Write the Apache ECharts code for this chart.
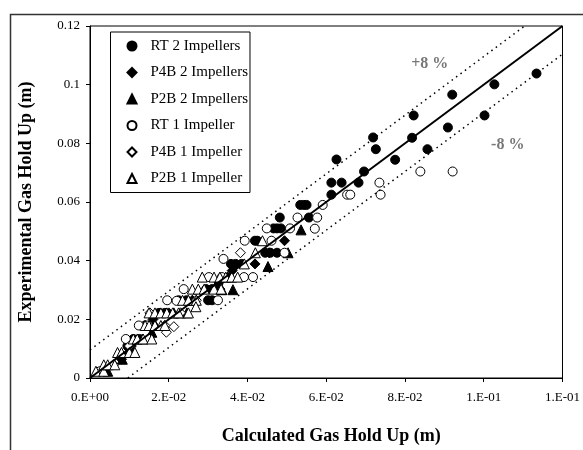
<!DOCTYPE html>
<html>
<head>
<meta charset="utf-8">
<script src="https://cdn.jsdelivr.net/npm/echarts@6/dist/echarts.min.js"></script>
<style>
  html, body { margin: 0; padding: 0; background: #fff; }
  #chart { width: 583px; height: 450px; }
</style>
</head>
<body>
<div id="chart"></div>
<script>
// tick labels as printed on the original
const xTickLabels = ['0.E+00', '2.E-02', '4.E-02', '6.E-02', '8.E-02', '1.E-01', '1.E-01']
const yTickLabels = ['0', '0.02', '0.04', '0.06', '0.08', '0.1', '0.12']

// [calculated, experimental] pairs
const rt2 = [
  [0.1134, 0.1038], [0.1027, 0.1001], [0.0920, 0.0966], [0.0822, 0.0895], [0.1002, 0.0895],
  [0.0909, 0.0854], [0.0818, 0.0819], [0.0719, 0.0820], [0.0726, 0.0780], [0.0857, 0.0780],
  [0.0775, 0.0744], [0.0626, 0.0745], [0.0696, 0.0704], [0.0613, 0.0666], [0.0639, 0.0666],
  [0.0682, 0.0666], [0.0613, 0.0625], [0.0534, 0.0590], [0.0543, 0.0590], [0.0550, 0.0590],
  [0.0482, 0.0547], [0.0556, 0.0547], [0.0466, 0.0510], [0.0475, 0.0510], [0.0485, 0.0510],
  [0.0419, 0.0468], [0.0425, 0.0468], [0.0445, 0.0427], [0.0458, 0.0427], [0.0475, 0.0427],
  [0.0358, 0.0389], [0.0370, 0.0389], [0.0385, 0.0389], [0.0327, 0.0326],
  [0.0295, 0.0303], [0.0310, 0.0303], [0.0325, 0.0303],
  [0.0225, 0.0265], [0.0245, 0.0265], [0.0300, 0.0265], [0.0310, 0.0265],
  [0.0175, 0.0222], [0.0190, 0.0222], [0.0140, 0.0179], [0.0160, 0.0179],
  [0.0110, 0.0133], [0.0125, 0.0133], [0.0095, 0.0109]
]
const p4b2 = [
  [0.0494, 0.0468], [0.0419, 0.0389], [0.0361, 0.0366], [0.0455, 0.0427], [0.0330, 0.0303],
  [0.0260, 0.0265], [0.0200, 0.0222], [0.0160, 0.0200], [0.0140, 0.0179], [0.0150, 0.0133],
  [0.0105, 0.0109], [0.0080, 0.0064]
]
const p2b2 = [
  [0.0452, 0.0380], [0.0503, 0.0427], [0.0536, 0.0505], [0.0363, 0.0301], [0.0335, 0.0301],
  [0.0350, 0.0344], [0.0260, 0.0265], [0.0213, 0.0222], [0.0230, 0.0222], [0.0246, 0.0222],
  [0.0166, 0.0179], [0.0157, 0.0156], [0.0133, 0.0133], [0.0095, 0.0087], [0.0110, 0.0087],
  [0.0082, 0.0064], [0.0045, 0.0023]
]
const rt1 = [
  [0.0921, 0.0704], [0.0839, 0.0704], [0.0735, 0.0666], [0.0738, 0.0625], [0.0653, 0.0625],
  [0.0661, 0.0625], [0.0591, 0.0590], [0.0527, 0.0547], [0.0577, 0.0547], [0.0449, 0.0510],
  [0.0508, 0.0510], [0.0571, 0.0509], [0.0393, 0.0468], [0.0461, 0.0468], [0.0494, 0.0427],
  [0.0339, 0.0406], [0.0302, 0.0344], [0.0335, 0.0344], [0.0391, 0.0344], [0.0414, 0.0344],
  [0.0238, 0.0303], [0.0196, 0.0265], [0.0220, 0.0263], [0.0325, 0.0265],
  [0.0124, 0.0179], [0.0147, 0.0179], [0.0091, 0.0133], [0.0025, 0.0023]
]
const p4b1 = [
  [0.0382, 0.0427], [0.0152, 0.0222], [0.0194, 0.0156], [0.0213, 0.0175], [0.0230, 0.0222],
  [0.0190, 0.0179], [0.0270, 0.0265], [0.0150, 0.0133], [0.0100, 0.0109], [0.0060, 0.0045]
]
const p2b1 = [
  [0.0015, 0.0023], [0.0035, 0.0023], [0.0035, 0.0045], [0.0045, 0.0045], [0.0063, 0.0045],
  [0.0070, 0.0087], [0.0080, 0.0087], [0.0100, 0.0087], [0.0114, 0.0087],
  [0.0110, 0.0133], [0.0120, 0.0133], [0.0135, 0.0133], [0.0157, 0.0133],
  [0.0140, 0.0179], [0.0150, 0.0179], [0.0165, 0.0179], [0.0180, 0.0179], [0.0190, 0.0179],
  [0.0150, 0.0222], [0.0165, 0.0222], [0.0180, 0.0222], [0.0195, 0.0222], [0.0210, 0.0222],
  [0.0225, 0.0222], [0.0250, 0.0222], [0.0235, 0.0265], [0.0250, 0.0265], [0.0270, 0.0265],
  [0.0269, 0.0243], [0.0260, 0.0303], [0.0275, 0.0303], [0.0290, 0.0303], [0.0315, 0.0303],
  [0.0333, 0.0303], [0.0285, 0.0344], [0.0315, 0.0344], [0.0330, 0.0344], [0.0345, 0.0344],
  [0.0360, 0.0344], [0.0375, 0.0344], [0.0392, 0.0389], [0.0420, 0.0427], [0.0438, 0.0468]
]

// parity line and the +/-8 % band (8 % of full scale)
const parityLine = [[0, 0], [0.12, 0.12]]
const upperLine = [[0, 0.0096], [0.1104, 0.12]]
const lowerLine = [[0.0096, 0], [0.12, 0.1104]]
const bandLabels = [
  { name: '+8 %', value: [0.0863, 0.1070] },
  { name: '-8 %', value: [0.1061, 0.0794] }
]

const FONT = 'Liberation Serif'

function openStyle() {
  return { color: '#fff', borderColor: '#000', borderWidth: 1, opacity: 1 }
}
function filledStyle() {
  return { color: '#000', borderColor: '#000', borderWidth: 1, opacity: 1 }
}

function scatter(name, data, symbol, style, size) {
  return {
    name: name,
    type: 'scatter',
    data: data,
    symbol: symbol,
    symbolSize: size,
    itemStyle: style,
    emphasis: { disabled: true },
    z: 3
  }
}

function guide(data, width, type) {
  return {
    type: 'line',
    data: data,
    showSymbol: false,
    silent: true,
    lineStyle: { color: '#000', width: width, type: type },
    z: 4
  }
}

const chart = echarts.init(document.getElementById('chart'))

chart.setOption({
  animation: false,
  backgroundColor: '#fff',
  textStyle: { fontFamily: FONT },
  graphic: [
    {
      type: 'rect',
      shape: { x: 10.5, y: 14.5, width: 620, height: 500 },
      style: { fill: 'none', stroke: '#333', lineWidth: 1.5 },
      silent: true
    }
  ],
  grid: {
    left: 90,
    top: 26,
    right: 16.5,
    bottom: 68,
    show: true,
    borderColor: '#000',
    borderWidth: 1
  },
  legend: {
    orient: 'vertical',
    left: 110.5,
    top: 32,
    data: ['RT 2 Impellers', 'P4B 2 Impellers', 'P2B 2 Impellers', 'RT 1 Impeller', 'P4B 1 Impeller', 'P2B 1 Impeller'],
    itemWidth: 9,
    itemHeight: 9,
    itemGap: 11.5,
    padding: [6.5, 2, 6.5, 16],
    borderColor: '#000',
    borderWidth: 1,
    backgroundColor: '#fff',
    textStyle: {
      fontFamily: FONT,
      fontSize: 15,
      color: '#000',
      lineHeight: 15,
      padding: [0, 0, 0, 9]
    }
  },
  xAxis: {
    type: 'value',
    min: 0,
    max: 0.12,
    interval: 0.02,
    name: 'Calculated Gas Hold Up (m)',
    nameLocation: 'middle',
    nameGap: 49,
    nameTextStyle: { fontFamily: FONT, fontSize: 18, fontWeight: 'bold', color: '#000', padding: [0, 0, 0, 10] },
    axisLine: { show: true, lineStyle: { color: '#000', width: 1 } },
    axisTick: { show: true, inside: false, length: 4, lineStyle: { color: '#000' } },
    splitLine: { show: false },
    axisLabel: {
      margin: 13,
      fontFamily: FONT,
      fontSize: 13,
      color: '#000',
      formatter: function (v) { return xTickLabels[Math.round(v / 0.02)] }
    }
  },
  yAxis: {
    type: 'value',
    min: 0,
    max: 0.12,
    interval: 0.02,
    name: 'Experimental Gas Hold Up (m)',
    nameLocation: 'middle',
    nameGap: 55,
    nameTextStyle: { fontFamily: FONT, fontSize: 18, fontWeight: 'bold', color: '#000' },
    axisLine: { show: true, lineStyle: { color: '#000', width: 1 } },
    axisTick: { show: true, inside: false, length: 4, lineStyle: { color: '#000' } },
    splitLine: { show: false },
    axisLabel: {
      margin: 10,
      fontFamily: FONT,
      fontSize: 13,
      color: '#000',
      formatter: function (v) { return yTickLabels[Math.round(v / 0.02)] }
    }
  },
  series: [
    scatter('RT 2 Impellers', rt2, 'circle', filledStyle(), 9),
    scatter('P4B 2 Impellers', p4b2, 'diamond', filledStyle(), 10),
    scatter('P2B 2 Impellers', p2b2, 'triangle', filledStyle(), 10),
    scatter('RT 1 Impeller', rt1, 'circle', openStyle(), 9),
    scatter('P4B 1 Impeller', p4b1, 'diamond', openStyle(), 10),
    scatter('P2B 1 Impeller', p2b1, 'triangle', openStyle(), 10),
    guide(parityLine, 2, 'solid'),
    guide(upperLine, 1.5, [1.5, 4]),
    guide(lowerLine, 1.5, [1.5, 4]),
    {
      type: 'scatter',
      data: bandLabels,
      symbolSize: 0,
      silent: true,
      label: {
        show: true,
        position: 'inside',
        formatter: '{b}',
        fontFamily: FONT,
        fontSize: 16,
        fontWeight: 'bold',
        color: '#555'
      },
      z: 5
    }
  ]
})
</script>
</body>
</html>
